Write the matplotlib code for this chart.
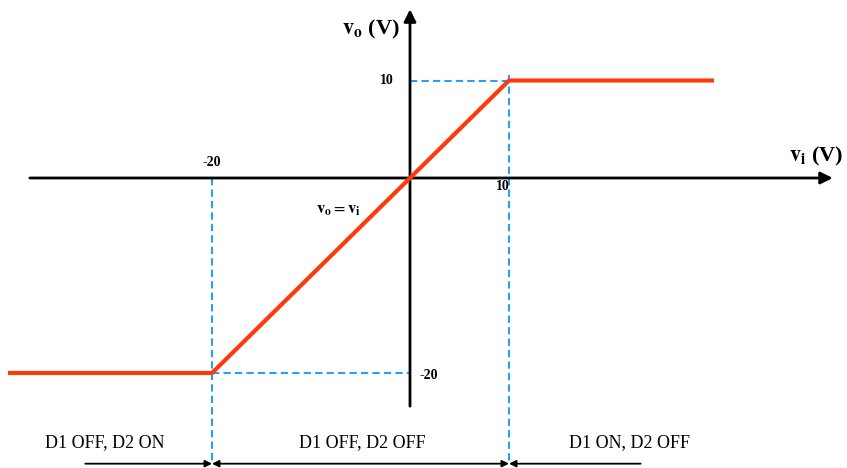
import matplotlib
matplotlib.use("Agg")
import matplotlib.pyplot as plt

plt.rcParams["font.family"] = ["Liberation Serif", "DejaVu Serif"]
plt.rcParams["mathtext.fontset"] = "stix"

# transfer characteristic vo(vi)
vi_pts = [-40.4, -20, 10, 30.5]
vo_pts = [-20, -20, 10, 10]

# breakpoints
v_low = -20
v_high = 10

regions = ["D1 OFF, D2 ON", "D1 OFF, D2 OFF", "D1 ON, D2 OFF"]
region_x = [-30.8, -4.8, 22.2]

red = "#FF3A0A"
blue = "#2A9DF4"
dash = (0, (3.5, 2))

fig = plt.figure(figsize=(8.47, 4.68), dpi=100)
ax = fig.add_axes([0, 0, 1, 1])
ax.set_xlim(-410 / 9.9, 437 / 9.9)
ax.set_ylim(-290 / 9.75, 178 / 9.75)
ax.axis("off")

# axes with arrows
ax.annotate("", xy=(42.7, 0), xytext=(-38.4, 0),
            arrowprops=dict(arrowstyle="-|>", color="black", lw=2.0,
                            mutation_scale=18, shrinkA=0, shrinkB=0))
ax.annotate("", xy=(0, 17.3), xytext=(0, -23.4),
            arrowprops=dict(arrowstyle="-|>", color="black", lw=2.0,
                            mutation_scale=18, shrinkA=0, shrinkB=0))

# dashed guides
ax.plot([v_low, v_low], [0, -29.2], ls=dash, color=blue, lw=1.5)
ax.plot([v_high, v_high], [10.6, -29.2], ls=dash, color=blue, lw=1.5)
ax.plot([0, v_high], [v_high, v_high], ls=dash, color=blue, lw=1.5)
ax.plot([v_low, 0], [v_low, v_low], ls=dash, color=blue, lw=1.5)

# characteristic
ax.plot(vi_pts, vo_pts, color=red, lw=3.0, solid_joinstyle="miter", zorder=5)

# labels
ax.text(-1.0, 15.2, r"$\mathbf{v}_\mathbf{o}$ (V)", ha="right", va="center",
        fontsize=16, fontweight="bold")
ax.text(41.0, 2.2, r"$\mathbf{v}_\mathbf{i}$ (V)", ha="center", va="center",
        fontsize=16, fontweight="bold")
ax.text(-1.6, v_high, "10", ha="right", va="center", fontsize=10, fontweight="bold")
ax.text(v_low, 1.6, "-20", ha="center", va="center", fontsize=10, fontweight="bold")
ax.text(9.4, -0.9, "10", ha="center", va="center", fontsize=10, fontweight="bold")
ax.text(1.0, v_low - 0.3, "-20", ha="left", va="center", fontsize=10, fontweight="bold")
ax.text(-7.2, -3.3, r"$\mathbf{v}_\mathbf{o} = \mathbf{v}_\mathbf{i}$", ha="center",
        va="center", fontsize=12)

# operating regions
for label, xc in zip(regions, region_x):
    ax.text(xc, -27.1, label, ha="center", va="center", fontsize=13)

arrow_y = -29.3
ax.annotate("", xy=(v_low, arrow_y), xytext=(-32.8, arrow_y),
            arrowprops=dict(arrowstyle="-|>", color="black", lw=1.3,
                            mutation_scale=10, shrinkA=0, shrinkB=0))
ax.annotate("", xy=(v_high, arrow_y), xytext=(v_low, arrow_y),
            arrowprops=dict(arrowstyle="<|-|>", color="black", lw=1.3,
                            mutation_scale=10, shrinkA=0, shrinkB=0))
ax.annotate("", xy=(v_high, arrow_y), xytext=(23.3, arrow_y),
            arrowprops=dict(arrowstyle="-|>", color="black", lw=1.3,
                            mutation_scale=10, shrinkA=0, shrinkB=0))

fig.savefig("out.png", dpi=100)
